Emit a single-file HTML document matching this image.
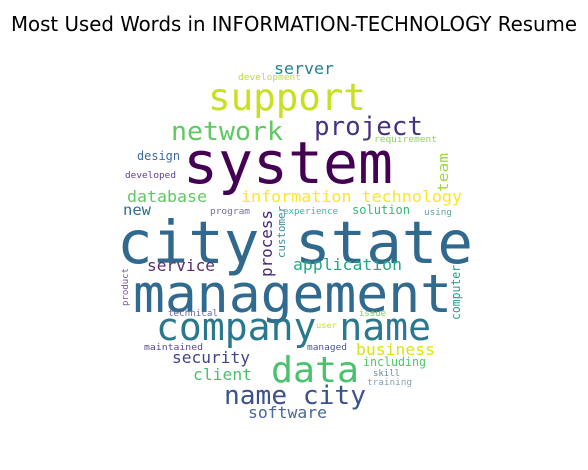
<!DOCTYPE html>
<html><head><meta charset="utf-8"><style>
html,body{margin:0;padding:0;background:#fff;width:588px;height:470px;overflow:hidden}
svg text{font-family:"DejaVu Sans Mono","Liberation Mono",monospace}
</style></head><body>
<svg width="588" height="470">
<text x="294" y="31" text-anchor="middle" font-size="20" textLength="566" lengthAdjust="spacingAndGlyphs" style="font-family:'DejaVu Sans','Liberation Sans',sans-serif" fill="#000">Most Used Words in INFORMATION-TECHNOLOGY Resume</text>
<g id="cloud"></g>
</svg>
<script>
const words=["system","city state","management","support","network","project","company name","data","name city","software","server","development","requirement","design","developed","database","information technology","new","program","experience","solution","using","team","process","customer","service","application","computer","product","technical","issue","user","maintained","managed","business","security","including","client","skill","training"];
const sizes=[58,59,53,37,26,26,38,36,26,16,16,9,9,12,9,16,16,15,9,9,12,9,14,16,11,16,16,12,9,9,9,8,9,9,16,16,12,16,9,9];
const colors=["#440154","#31688e","#306a8e","#c8e020","#5ec962","#46337e","#2a788e","#4ac16d","#3b528b","#46689a","#26828e","#bddf26","#8fd744","#3e6a9c","#5c3f8e","#5ec962","#fde725","#2e6e8e","#7a6ca3","#35b7a0","#35b779","#5ba3a3","#a0da39","#482878","#3e8d9f","#5e2b6b","#22a884","#2a9a8e","#7a5a9a","#6a6aa0","#7ad151","#c8e020","#5a4a90","#48589a","#dce319","#414487","#52c569","#4ac16d","#6a8aa0","#8aa0b8"];
// layout: [x, y, length, rotated]
const layout=[[183,183,210,0],[117,263,356,0],[133,312,319,0],[208,110,158,0],[171,140,112,0],[314,135,109,0],[156,340,275,0],[271,382,88,0],[224,404,142,0],[248,418,79,0],[274,74,60,0],[238,80,63,0],[374,142,63,0],[137,160,43,0],[125,178,51,0],[127,202,80,0],[241,202,221,0],[123,215,28,0],[210,214,40,0],[283,214,55,0],[352,214,58,0],[424,215,28,0],[448,192,39,1],[272,277,67,1],[285,258,52,1],[147,271,68,0],[293,270,109,0],[460,320,55,1],[128,306,38,1],[168,316,50,0],[359,316,27,0],[316,328,21,0],[144,350,59,0],[307,350,40,0],[356,355,79,0],[172,363,78,0],[363,366,63,0],[193,380,59,0],[373,376,27,0],[367,385,45,0]];
const g=document.getElementById('cloud');
words.forEach((w,i)=>{
  const t=document.createElementNS('http://www.w3.org/2000/svg','text');
  const [x,y,len,rot]=layout[i];
  t.setAttribute('font-size',sizes[i]);
  t.setAttribute('fill',colors[i]);
  t.setAttribute('textLength',len);
  t.setAttribute('lengthAdjust','spacingAndGlyphs');
  if(rot){t.setAttribute('transform','translate('+x+','+y+') rotate(-90)');t.setAttribute('x',0);t.setAttribute('y',0);}
  else{t.setAttribute('x',x);t.setAttribute('y',y);}
  t.textContent=w;
  
  
  g.appendChild(t);
});
</script>
</body></html>
